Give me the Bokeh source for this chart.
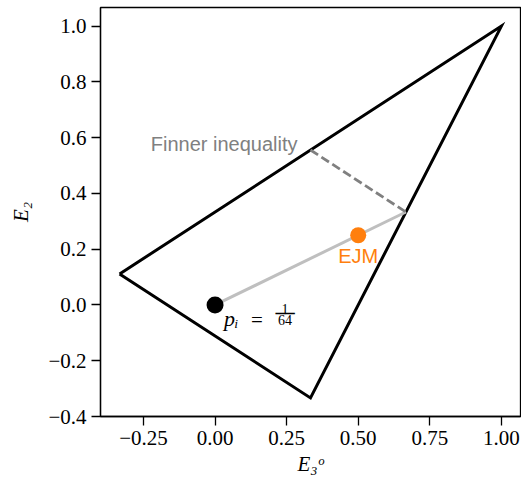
from bokeh.plotting import figure
from bokeh.models import FixedTicker, Range1d
from bokeh.core.properties import value
from bokeh.embed import file_html
from bokeh.resources import INLINE

# --- data ---
tri_x = [-1/3, 1/3, 1.0, -1/3]
tri_y = [1/9, -1/3, 1.0, 1/9]
finner_x = [1/3, 2/3]
finner_y = [5/9, 1/3]
path_x = [0.0, 2/3]
path_y = [0.0, 1/3]
pi_x = [0.0]
pi_y = [0.0]
ejm_x = [0.5]
ejm_y = [0.25]
x_ticks = [-0.25, 0.0, 0.25, 0.5, 0.75, 1.0]
x_tick_labels = ["\u22120.25", "0.00", "0.25", "0.50", "0.75", "1.00"]
y_ticks = [-0.4, -0.2, 0.0, 0.2, 0.4, 0.6, 0.8, 1.0]
y_tick_labels = ["\u22120.4", "\u22120.2", "0.0", "0.2", "0.4", "0.6", "0.8", "1.0"]
x_range = (-0.4, 1.0667)
y_range = (-0.4, 1.0667)

SERIF = "Liberation Serif"
SANS = "Liberation Sans"

p = figure(width=521, height=485, output_backend="svg", toolbar_location=None,
           x_range=Range1d(*x_range), y_range=Range1d(*y_range),
           min_border_left=100, min_border_right=1, min_border_top=7,
           min_border_bottom=69)
p.grid.visible = False
p.outline_line_color = "black"
p.outline_line_width = 1.3
p.background_fill_color = "white"
p.border_fill_color = "white"

for ax, ticks, labels in ((p.xaxis[0], x_ticks, x_tick_labels),
                          (p.yaxis[0], y_ticks, y_tick_labels)):
    ax.ticker = FixedTicker(ticks=ticks)
    ax.major_label_overrides = {t: l for t, l in zip(ticks, labels)}
    ax.major_tick_out = 9
    ax.major_tick_in = 0
    ax.minor_tick_line_color = None
    ax.major_tick_line_width = 1.3
    ax.axis_line_width = 1.3
    ax.major_label_text_font = SERIF
    ax.major_label_text_font_size = "21px"
    ax.major_label_text_color = "black"
    ax.axis_label_text_font = SERIF
    ax.axis_label_text_font_style = "italic"
    ax.axis_label_text_font_size = "21px"
    ax.axis_label_text_color = "black"
    ax.major_label_standoff = 5

p.xaxis.axis_label = "E\u2083\u1d52"
p.yaxis.axis_label = "E\u2082"
p.xaxis.axis_label_standoff = 4
p.yaxis.axis_label_standoff = 12

p.line(tri_x, tri_y, line_color="black", line_width=3, line_join="miter")
p.line(path_x, path_y, line_color="#bfbfbf", line_width=3)
p.line(finner_x, finner_y, line_color="#808080", line_width=2.8, line_dash="9 4")

p.scatter(pi_x, pi_y, size=17, fill_color="black", line_color=None)
p.scatter(ejm_x, ejm_y, size=16, fill_color="#ff7f0e", line_color=None)

p.text(finner_x[:1], finner_y[:1], text=["Finner inequality"], text_align="right",
       text_baseline="middle", x_offset=-13, y_offset=-6, text_color="#808080",
       text_font=value(SANS), text_font_size="20px")
p.text(ejm_x, ejm_y, text=["EJM"], text_align="center", text_baseline="top",
       y_offset=10, text_color="#ff7f0e", text_font=value(SANS), text_font_size="20px")

# p_i = 1/64 label
p.text(pi_x, pi_y, text=["p\u1d62"], text_align="left", text_baseline="alphabetic",
       x_offset=9, y_offset=14, text_color="black", text_font=value(SERIF),
       text_font_style="italic", text_font_size="22px")
p.text(pi_x, pi_y, text=["="], text_align="left", text_baseline="alphabetic",
       x_offset=36, y_offset=15, text_color="black", text_font=value(SERIF),
       text_font_size="21px")
p.text(pi_x, pi_y, text=["1"], text_align="center", text_baseline="bottom",
       x_offset=70, y_offset=9, text_color="black", text_font=value(SERIF),
       text_font_size="14px")
p.text(pi_x, pi_y, text=["64"], text_align="center", text_baseline="top",
       x_offset=70, y_offset=10, text_color="black", text_font=value(SERIF),
       text_font_size="14px")
p.text(pi_x, pi_y, text=["\u2500\u2500"], text_align="center", text_baseline="middle",
       x_offset=70, y_offset=9, text_color="black", text_font=value("DejaVu Sans"),
       text_font_size="16px")

open("out.html", "w").write(file_html(p, INLINE))
